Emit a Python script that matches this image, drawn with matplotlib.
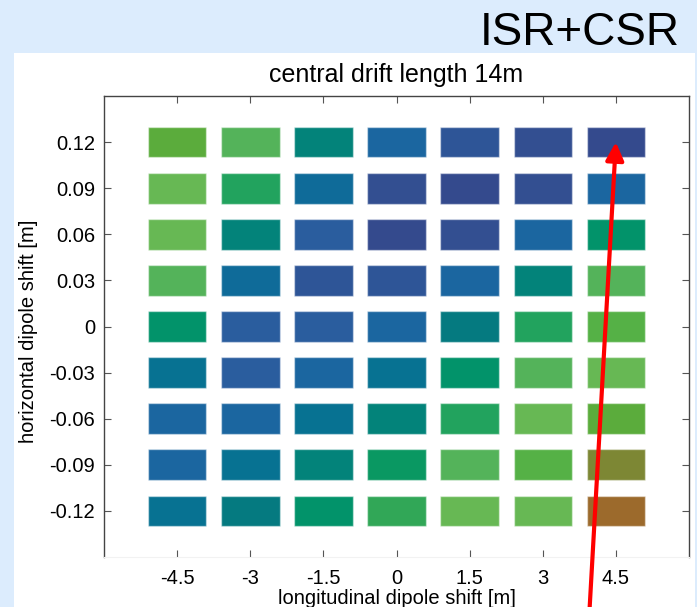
import matplotlib
matplotlib.use("Agg")
import numpy as np
from matplotlib import pyplot as plt
from matplotlib.patches import Rectangle
from matplotlib.colors import LinearSegmentedColormap

plt.rcParams['font.family'] = ['Liberation Sans', 'DejaVu Sans']

# grid of dipole shifts
long_shift = [-4.5, -3, -1.5, 0, 1.5, 3, 4.5]
horiz_shift = [0.12, 0.09, 0.06, 0.03, 0, -0.03, -0.06, -0.09, -0.12]
xtick_labels = ['-4.5', '-3', '-1.5', '0', '1.5', '3', '4.5']
ytick_labels = ['0.12', '0.09', '0.06', '0.03', '0', '-0.03', '-0.06', '-0.09', '-0.12']

# normalised figure of merit per cell, rows follow horiz_shift
row_012 = [0.80, 0.66, 0.42, 0.20, 0.10, 0.04, 0.00]
row_009 = [0.72, 0.58, 0.25, 0.04, 0.00, 0.04, 0.20]
row_006 = [0.72, 0.42, 0.14, 0.00, 0.04, 0.20, 0.50]
row_003 = [0.66, 0.25, 0.10, 0.10, 0.20, 0.42, 0.66]
row_000 = [0.50, 0.14, 0.14, 0.20, 0.36, 0.58, 0.76]
row_m003 = [0.30, 0.14, 0.20, 0.30, 0.50, 0.66, 0.72]
row_m006 = [0.20, 0.20, 0.30, 0.42, 0.58, 0.72, 0.80]
row_m009 = [0.20, 0.30, 0.42, 0.53, 0.66, 0.76, 0.90]
row_m012 = [0.30, 0.36, 0.50, 0.61, 0.72, 0.72, 1.00]
values = np.array([row_012, row_009, row_006, row_003, row_000,
                   row_m003, row_m006, row_m009, row_m012])

cmap = LinearSegmentedColormap.from_list('isr_csr', [
    (0.00, '#344a8d'), (0.04, '#334f91'), (0.10, '#2e5597'), (0.14, '#2a5e9f'),
    (0.20, '#1b66a0'), (0.25, '#0f6b99'), (0.30, '#077292'), (0.36, '#057a80'),
    (0.42, '#03837a'), (0.50, '#01936b'), (0.53, '#0a9862'), (0.58, '#22a35e'),
    (0.61, '#30a757'), (0.66, '#55b35a'), (0.72, '#68b855'), (0.76, '#55b146'),
    (0.80, '#5bac3c'), (0.90, '#7c8834'), (1.00, '#9c6a2c')])

W, H = 697, 607
fig = plt.figure(figsize=(W / 100, H / 100), dpi=100)
fig.patch.set_facecolor('#dcecfd')

# white slide panel behind the plot
fig.patches.append(Rectangle((14 / W, 0), (695 - 14) / W, 1 - 53 / H,
                             transform=fig.transFigure, facecolor='white',
                             edgecolor='none', zorder=-1))
fig.text(680 / W, 1 - 45 / H, 'ISR+CSR', ha='right', va='baseline', fontsize=33)

ax = fig.add_axes([104 / W, 1 - 557 / H, (689 - 104) / W, (557 - 96) / H])
ax.set_facecolor('white')

bw, bh = 1.2, 0.02
for i, y in enumerate(horiz_shift):
    for j, x in enumerate(long_shift):
        ax.add_patch(Rectangle((x - bw / 2, y - bh / 2), bw, bh,
                               facecolor=cmap(values[i, j]),
                               edgecolor=(1, 1, 1, 0.45), lw=1.0))

ax.set_xlim(-6, 6)
ax.set_ylim(-0.15, 0.15)
ax.set_xticks(long_shift)
ax.set_xticklabels(xtick_labels)
ax.set_yticks(horiz_shift)
ax.set_yticklabels(ytick_labels)
ax.tick_params(axis='x', direction='in', top=True, bottom=True, length=5,
               width=0.8, color='#555555', pad=8.5, labelsize=14.5)
ax.tick_params(axis='y', direction='in', left=True, right=True, length=5,
               width=0.8, color='#555555', pad=6.5, labelsize=14.5)
for side in ['left', 'top', 'right']:
    ax.spines[side].set_color('#444444')
    ax.spines[side].set_linewidth(1.0)
ax.spines['bottom'].set_color('#f2f2f2')

ax.set_title('central drift length 14m', fontsize=18, pad=10)
ax.set_xlabel('longitudinal dipole shift [m]', fontsize=14.5)
ax.set_ylabel('horizontal dipole shift [m]', fontsize=14.5)
ax.xaxis.set_label_coords(0.5, -0.07)
ax.yaxis.set_label_coords(-0.113, 0.49)

# red arrow pointing at the top-right cell
ax.annotate('', xy=(4.5, 0.12), xycoords='data',
            xytext=(589 / W, -0.02), textcoords='figure fraction',
            annotation_clip=False,
            arrowprops=dict(arrowstyle='-|>,head_length=0.4,head_width=0.2',
                            mutation_scale=27, color='#ff0000', lw=3,
                            shrinkA=0, shrinkB=0))

fig.savefig('out.png', dpi=100, facecolor=fig.get_facecolor())
